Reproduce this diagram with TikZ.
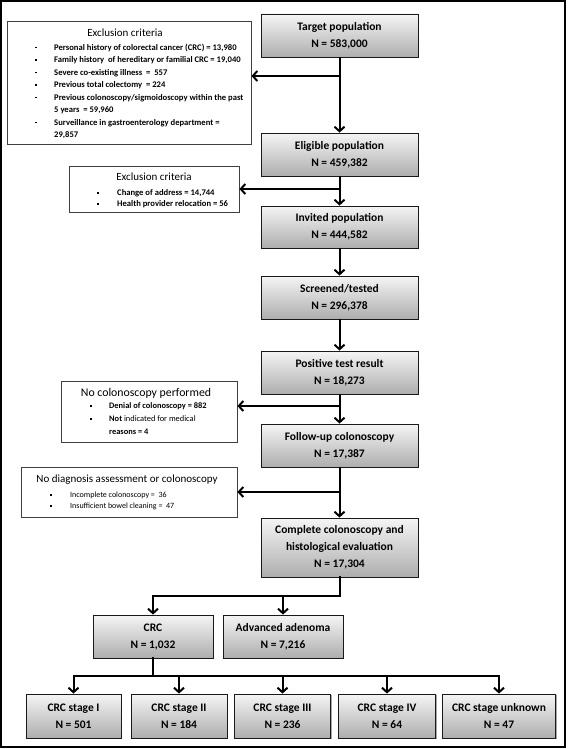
\documentclass[tikz,border=0pt]{standalone}
\usepackage{fontspec}
\setmainfont{Carlito}
\usetikzlibrary{arrows.meta,shadows}
\newcommand{\exbul}{\raisebox{0.22em}{\rule{1.7pt}{1.7pt}}}
\newcommand{\exitem}[2]{\makebox[#1][l]{\hspace{0.6pt}\exbul}#2\strut}
\newcommand{\excont}[2]{\hspace*{#1}#2\strut}
\tikzset{
  mainbox/.style={draw=black!90, line width=0.9pt, top color=black!4, bottom color=black!32,
    inner sep=0pt, align=center, font=\fontsize{11.5}{17}\selectfont\bfseries,
    drop shadow={shadow xshift=1.2pt, shadow yshift=-1.2pt, fill=black, opacity=0.35}},
  exbox/.style={draw=black!75, line width=0.9pt, fill=white, inner sep=0pt},
  extitle/.style={inner sep=0pt, font=\fontsize{11}{13}\selectfont},
  exlist/.style={inner sep=0pt, align=left, anchor=north west},
  conn/.style={draw, line width=2pt, -{Straight Barb[length=4.5pt,width=10pt]}},
  plainline/.style={draw, line width=2pt, line cap=rect},
}
\begin{document}
\begin{tikzpicture}[x=1pt,y=-1pt]
\useasboundingbox (0,0) rectangle (568,749);
\draw[line width=1.5pt] (1,1) rectangle (565,747);

% main column
\node[mainbox, minimum width=157pt, minimum height=43pt] (t) at (339.5,35.5) {Target population\\N = 583,000};
\node[mainbox, minimum width=157pt, minimum height=43pt] (e) at (339.5,154.5) {Eligible population\\N = 459,382};
\node[mainbox, minimum width=157pt, minimum height=42pt] (i) at (339.5,227) {Invited population\\N = 444,582};
\node[mainbox, minimum width=157pt, minimum height=43pt] (s) at (339.5,297.5) {Screened/tested\\N = 296,378};
\node[mainbox, minimum width=157pt, minimum height=43pt] (p) at (339.5,372.5) {Positive test result\\N = 18,273};
\node[mainbox, minimum width=157pt, minimum height=43pt] (f) at (339.5,445.5) {Follow-up colonoscopy\\N = 17,387};
\node[mainbox, minimum width=157pt, minimum height=59pt] (c) at (339.5,547.5) {Complete colonoscopy and\\histological evaluation\\N = 17,304};
\node[mainbox, minimum width=120pt, minimum height=43pt] (crc) at (153,636.5) {CRC\\N = 1,032};
\node[mainbox, minimum width=120pt, minimum height=43pt] (adv) at (283,636.5) {Advanced adenoma\\N = 7,216};
\node[mainbox, minimum width=95pt, minimum height=44pt] (s1) at (73.5,716) {CRC stage I\\N = 501};
\node[mainbox, minimum width=96pt, minimum height=44pt] (s2) at (179,716) {CRC stage II\\N = 184};
\node[mainbox, minimum width=96pt, minimum height=44pt] (s3) at (282.5,716) {CRC stage III\\N = 236};
\node[mainbox, minimum width=97pt, minimum height=44pt] (s4) at (387,716) {CRC stage IV\\N = 64};
\node[mainbox, minimum width=113pt, minimum height=44pt] (s5) at (499,716) {CRC stage unknown\\N = 47};

% exclusion boxes
\node[exbox, minimum width=244pt, minimum height=123pt] (ex1) at (129,82.5) {};
\node[extitle] (ex1t) at (125,33) {Exclusion criteria};
\node[exlist, font=\fontsize{8.6}{12.5}\selectfont\bfseries] (ex1l) at (34.5,41.25) {%
\exitem{19.5pt}{Personal history of colorectal cancer (CRC) = 13,980}\\
\exitem{19.5pt}{Family history \ of hereditary or familial CRC = 19,040}\\
\exitem{19.5pt}{Severe co-existing illness \ = \ 557}\\
\exitem{19.5pt}{Previous total colectomy \ = 224}\\
\exitem{19.5pt}{Previous colonoscopy/sigmoidoscopy within the past}\\
\excont{19.5pt}{5 years \ = 59,960}\\
\exitem{19.5pt}{Surveillance in gastroenterology department =}\\
\excont{19.5pt}{29,857}};

\node[exbox, minimum width=170pt, minimum height=46pt] (ex2) at (154,189) {};
\node[extitle] (ex2t) at (154,177) {Exclusion criteria};
\node[exlist, font=\fontsize{8.6}{11}\selectfont\bfseries] (ex2l) at (96.5,187.9) {%
\exitem{20.5pt}{Change of address = 14,744}\\
\exitem{20.5pt}{Health provider relocation = 56}};

\node[exbox, minimum width=176pt, minimum height=61pt] (nocol) at (149,411.5) {};
\node[extitle, font=\fontsize{11.8}{13}\selectfont] (nocolt) at (146,393) {No colonoscopy performed};
\node[exlist, font=\fontsize{8.4}{13}\selectfont\bfseries] (nocoll) at (89.5,399.2) {%
\exitem{19.5pt}{Denial of colonoscopy = 882}\\
\exitem{19.5pt}{Not {\mdseries indicated for medical}}\\
\excont{19.5pt}{reasons = 4}};

\node[exbox, minimum width=216pt, minimum height=50pt] (nodiag) at (129,492) {};
\node[extitle] (nodiagt) at (127,480) {No diagnosis assessment or colonoscopy};
\node[exlist, font=\fontsize{8}{11}\selectfont] (nodiagl) at (49.5,489.6) {%
\exitem{20.5pt}{Incomplete colonoscopy = \ 36}\\
\exitem{20.5pt}{Insufficient bowel cleaning = \ 47}};

% connectors
\coordinate (b1) at (339.5,76);
\coordinate (b3) at (339.5,406);
\draw[conn] (t.south) -- (e.north);
\draw[conn] (b1) -- (b1 -| ex1.east);
\draw[conn] (e.south) -- (i.north);
\draw[conn] (e.south |- ex2.east) -- (ex2.east);
\draw[conn] (i.south) -- (s.north);
\draw[conn] (s.south) -- (p.north);
\draw[conn] (p.south) -- (f.north);
\draw[conn] (b3) -- (b3 -| nocol.east);
\draw[conn] (f.south) -- (c.north);
\draw[conn] (f.south |- nodiag.east) -- (nodiag.east);

\coordinate (j1) at (339.5,596);
\draw[plainline] (c.south) -- (j1) -- (j1 -| crc.north);
\draw[conn] (j1 -| crc.north) -- (crc.north);
\draw[conn] (j1 -| adv.north) -- (adv.north);

\coordinate (j2) at (153,676);
\draw[plainline] (crc.south) -- (j2);
\draw[plainline] (j2 -| s1.north) -- (j2 -| s5.north);
\foreach \n in {s1,s2,s3,s4,s5}{
  \draw[conn] (j2 -| \n.north) -- (\n.north);
}
\end{tikzpicture}
\end{document}
